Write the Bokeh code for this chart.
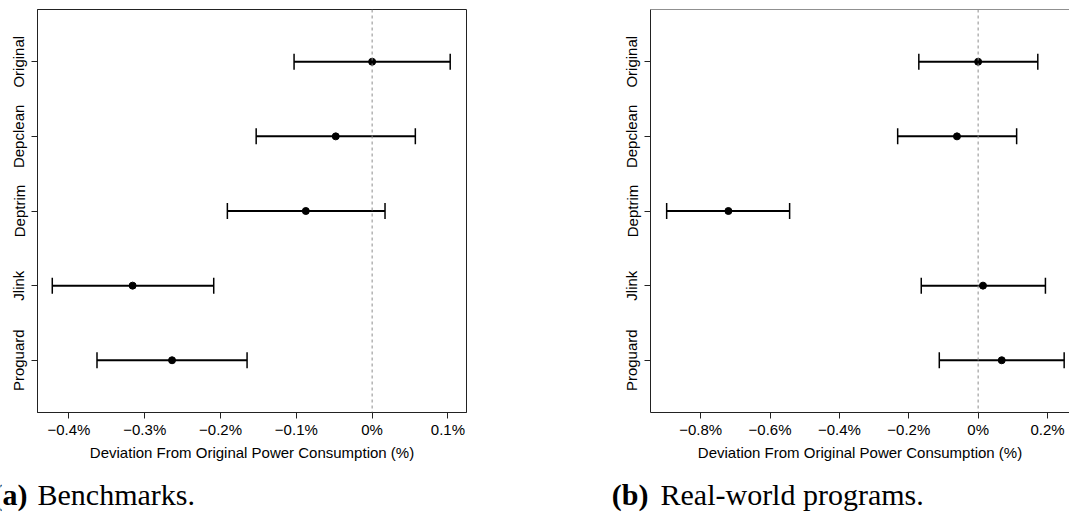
from bokeh.plotting import figure
from bokeh.models import (Range1d, FixedTicker, Span, Whisker, TeeHead, ColumnDataSource)
from bokeh.layouts import row, column
from bokeh.core.properties import value
from bokeh.embed import file_html
from bokeh.resources import INLINE

categories = ["Original", "Depclean", "Deptrim", "Jlink", "Proguard"]
cat_pos = [1, 2, 3, 4, 5]

# (a) Benchmarks: deviation (%) mean and CI
bench_mean = [0.0, -0.048, -0.0875, -0.316, -0.264]
bench_lower = [-0.103, -0.153, -0.191, -0.422, -0.363]
bench_upper = [0.103, 0.057, 0.017, -0.209, -0.165]
bench_ticks = [-0.4, -0.3, -0.2, -0.1, 0.0, 0.1]
bench_tick_labels = ["\u22120.4%", "\u22120.3%", "\u22120.2%", "\u22120.1%", "0%", "0.1%"]

# (b) Real-world programs
real_mean = [0.0, -0.061, -0.720, 0.014, 0.068]
real_lower = [-0.171, -0.232, -0.898, -0.164, -0.112]
real_upper = [0.172, 0.111, -0.5435, 0.194, 0.248]
real_ticks = [-0.8, -0.6, -0.4, -0.2, 0.0, 0.2]
real_tick_labels = ["\u22120.8%", "\u22120.6%", "\u22120.4%", "\u22120.2%", "0%", "0.2%"]

caption_tags = ["(a)", "(b)"]
caption_texts = ["Benchmarks.", "Real-world programs."]

x_title = "Deviation From Original Power Consumption (%)"
FONT = "Liberation Sans"
SERIF = "Liberation Serif"
PLOT_H = 470
CAP_H = 43


def make_panel(mean, lower, upper, ticks, tick_labels, xr, width, bl, br, outline):
    p = figure(width=width, height=PLOT_H, output_backend="svg", toolbar_location=None,
               x_range=Range1d(*xr), y_range=Range1d(5.7, 0.3),
               min_border_left=bl, min_border_right=br, min_border_top=9,
               min_border_bottom=PLOT_H - 412)
    p.grid.visible = False
    p.background_fill_color = "white"
    p.border_fill_color = "white"
    if outline:
        p.outline_line_color = "#222222"
        p.outline_line_width = 1
    else:
        p.outline_line_color = None
        p.add_layout(Span(location=0.3, dimension="width", line_color="#222222", line_width=1))

    src = ColumnDataSource(dict(y=cat_pos, m=mean, lo=lower, hi=upper))
    p.add_layout(Span(location=0, dimension="height", line_color="#8c8c8c",
                      line_width=1, line_dash="3 3"))
    w = Whisker(base="y", lower="lo", upper="hi", dimension="width", source=src,
                line_color="black", line_width=2,
                lower_head=TeeHead(size=16, line_width=1.5, line_color="black"),
                upper_head=TeeHead(size=16, line_width=1.5, line_color="black"),
                level="glyph")
    p.add_layout(w)
    p.scatter(x="m", y="y", source=src, size=7, color="black")

    xa = p.xaxis[0]
    xa.ticker = FixedTicker(ticks=ticks)
    xa.major_label_overrides = {t: l for t, l in zip(ticks, tick_labels)}
    xa.minor_tick_line_color = None
    xa.major_tick_in = 0
    xa.major_tick_out = 6
    xa.major_label_standoff = 2
    xa.axis_label = x_title
    xa.axis_label_text_font = FONT
    xa.axis_label_text_font_style = "normal"
    xa.axis_label_text_font_size = "15px"
    xa.axis_label_text_color = "black"
    xa.axis_label_standoff = 3
    xa.major_label_text_font = FONT
    xa.major_label_text_font_size = "15px"
    xa.major_label_text_color = "black"
    xa.axis_line_color = "#222222"
    xa.major_tick_line_color = "#222222"

    ya = p.yaxis[0]
    ya.ticker = FixedTicker(ticks=cat_pos)
    ya.major_label_overrides = {c: n for c, n in zip(cat_pos, categories)}
    ya.major_label_orientation = "vertical"
    ya.minor_tick_line_color = None
    ya.major_tick_in = 0
    ya.major_tick_out = 6
    ya.major_label_standoff = 4
    ya.major_label_text_font = FONT
    ya.major_label_text_font_size = "15px"
    ya.major_label_text_color = "black"
    ya.axis_line_color = "#222222"
    ya.major_tick_line_color = "#222222"
    return p


p1 = make_panel(bench_mean, bench_lower, bench_upper, bench_ticks, bench_tick_labels,
                (-0.4415, 0.1245), 480, 37, 14, True)
p2 = make_panel(real_mean, real_lower, real_upper, real_ticks, real_tick_labels,
                (-0.9446, 0.2634), 589, 170, 0, False)

# caption strip (pixel coordinates, y measured up from the strip's bottom)
cap = figure(width=1069, height=CAP_H, output_backend="svg", toolbar_location=None,
             x_range=Range1d(0, 1069), y_range=Range1d(0, CAP_H),
             x_axis_type=None, y_axis_type=None,
             min_border=0, min_border_left=0, min_border_right=0,
             min_border_top=0, min_border_bottom=0)
cap.grid.visible = False
cap.outline_line_color = None
cap.background_fill_color = "white"
cap.border_fill_color = "white"
cap.text(x=[27, 648], y=[19, 19], text=caption_tags, text_align="right",
         text_baseline="alphabetic", text_font=value(SERIF), text_font_style="bold",
         text_font_size="30px", text_color="black")
cap.text(x=[37, 660], y=[19, 19], text=caption_texts, text_align="left",
         text_baseline="alphabetic", text_font=value(SERIF),
         text_font_size="30px", text_color="black")

layout = column(row(p1, p2, spacing=0), cap, spacing=0)
open("out.html", "w").write(file_html(layout, INLINE))
